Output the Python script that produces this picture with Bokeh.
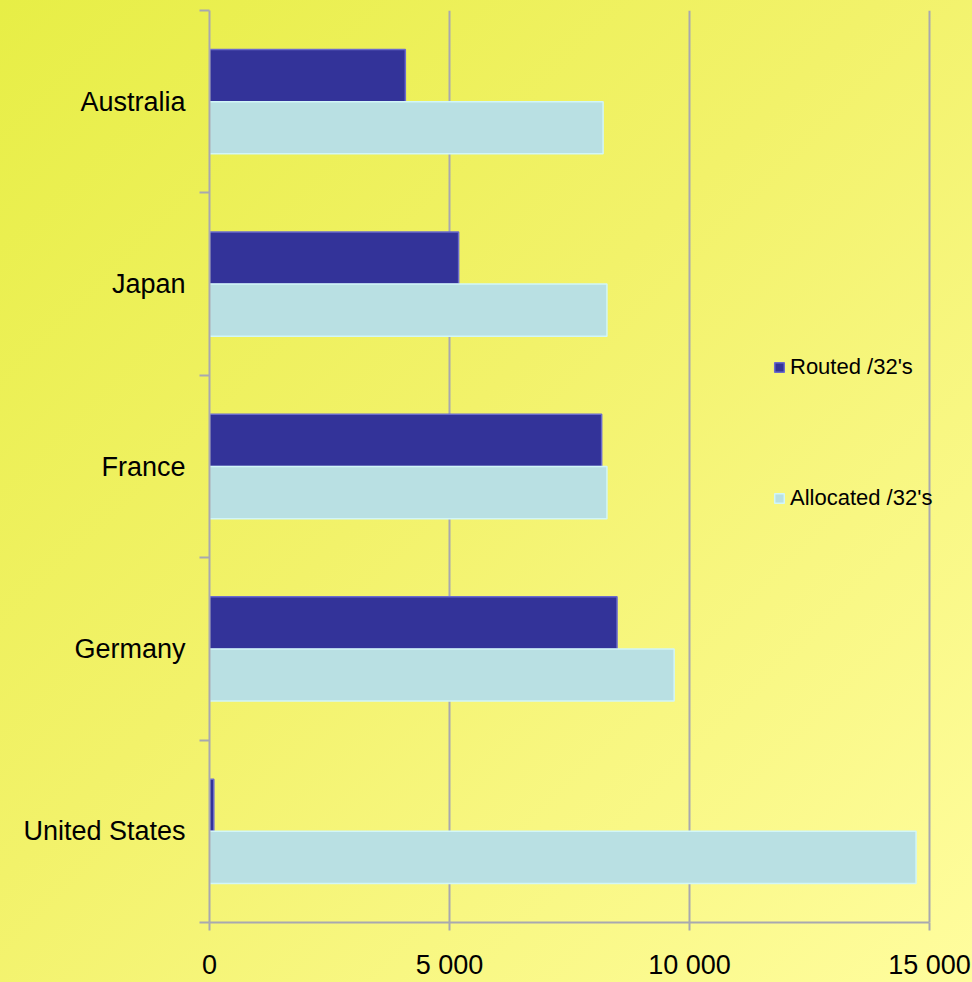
from bokeh.plotting import figure
from bokeh.models import (ColumnDataSource, Range1d, FixedTicker, Legend, LegendItem)
from bokeh.transform import dodge
from bokeh.embed import file_html
from bokeh.resources import INLINE

# ---- data ----
countries = ["Australia", "Japan", "France", "Germany", "United States"]
routed = [4080, 5190, 8170, 8490, 90]
allocated = [8200, 8280, 8280, 9680, 14720]
x_ticks = [0, 5000, 10000, 15000]
x_tick_labels = ["0", "5 000", "10 000", "15 000"]
series_names = ["Routed /32's", "Allocated /32's"]

FONT = "Liberation Sans"
GRAY = "#a8a8b0"

pos = [i + 0.5 for i in range(len(countries))]
src = ColumnDataSource(dict(pos=pos, country=countries, routed=routed, allocated=allocated))

p = figure(width=972, height=982, output_backend="svg", toolbar_location=None,
           x_range=Range1d(0, 15250), y_range=Range1d(len(countries), 0),
           min_border_left=209, min_border_right=31, min_border_top=10, min_border_bottom=55)
p.border_fill_alpha = 0
p.background_fill_alpha = 0
p.outline_line_color = None

bh = 0.286
r1 = p.hbar(y=dodge("pos", -0.143), height=bh, left=0, right="routed", source=src,
            fill_color="#333399", line_color="#6b6bcc", line_width=1.5)
r2 = p.hbar(y=dodge("pos", 0.143), height=bh, left=0, right="allocated", source=src,
            fill_color="#b9e0e3", line_color="#d2f6f8", line_width=1.5)

# x axis
xa = p.xaxis[0]
xa.bounds = (0, 15000)
xa.ticker = FixedTicker(ticks=x_ticks)
xa.major_label_overrides = {t: l for t, l in zip(x_ticks, x_tick_labels)}
xa.major_tick_out = 8
xa.major_tick_in = 0
xa.minor_tick_line_color = None
xa.axis_line_color = GRAY
xa.axis_line_width = 2
xa.major_tick_line_color = GRAY
xa.major_tick_line_width = 2
xa.major_label_text_font = FONT
xa.major_label_text_font_size = "27px"
xa.major_label_text_color = "#000000"
xa.major_label_standoff = 19

# y axis
ya = p.yaxis[0]
ya.ticker = FixedTicker(ticks=pos, minor_ticks=list(range(len(countries) + 1)))
ya.major_label_overrides = {pp: c for pp, c in zip(pos, countries)}
ya.major_tick_line_color = None
ya.major_tick_out = 0
ya.major_tick_in = 0
ya.minor_tick_out = 10
ya.minor_tick_in = 0
ya.minor_tick_line_color = GRAY
ya.minor_tick_line_width = 2
ya.axis_line_color = GRAY
ya.axis_line_width = 2
ya.major_label_text_font = FONT
ya.major_label_text_font_size = "27px"
ya.major_label_text_color = "#000000"
ya.major_label_standoff = 14

# grid
p.ygrid.grid_line_color = None
p.xgrid.ticker = FixedTicker(ticks=x_ticks[1:])
p.xgrid.grid_line_color = GRAY
p.xgrid.grid_line_width = 2

legend = Legend(items=[LegendItem(label=series_names[0], renderers=[r1]),
                       LegendItem(label=series_names[1], renderers=[r2])],
                location=(564, 411), orientation="vertical",
                glyph_width=12, glyph_height=12, label_standoff=5, spacing=105,
                padding=0, margin=0, border_line_color=None, background_fill_alpha=0,
                label_text_font=FONT, label_text_font_size="22px", label_text_color="#000000")
p.add_layout(legend, "center")

template = """
{% block inner_head %}
{{ super() }}
<style>
html { min-height: 100%; background: linear-gradient(135deg, #e7ee46 0%, #f2f26a 45%, #fffd9e 100%); }
body { background: transparent; }
</style>
{% endblock %}
"""

open("out.html", "w").write(file_html(p, INLINE, template=template))
